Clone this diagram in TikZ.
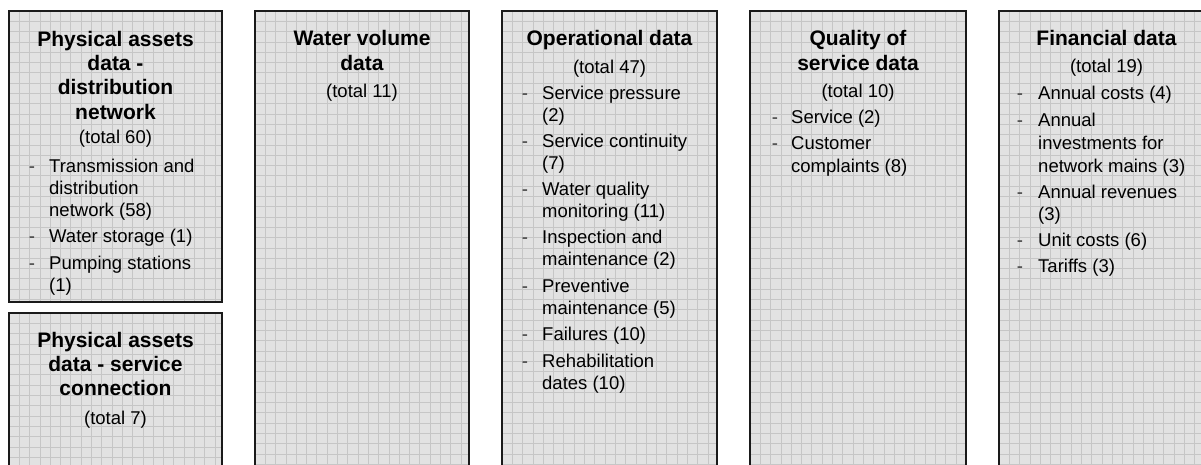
\documentclass[tikz,border=0pt]{standalone}
\usepackage{fontspec}
\setmainfont{Liberation Sans}
\definecolor{panelfill}{HTML}{E2E2E2}
\definecolor{gridcol}{HTML}{C6C6C6}
\definecolor{edgecol}{HTML}{1A1A1A}
% one shaded panel with a fine grid and a dark frame
\newcommand\gridpanel[4]{%
  \fill[panelfill] (#1,#2) rectangle (#3,#4);
  \begin{scope}
    \clip (#1,#2) rectangle (#3,#4);
    \foreach \k in {1,...,22} \draw[gridline] (#1+\k*10.3,#2) -- (#1+\k*10.3,#4);
    \foreach \k in {1,...,46} \draw[gridline] (#1,#2+\k*10.3) -- (#3,#2+\k*10.3);
  \end{scope}
  \draw[frame] (#1,#2) rectangle (#3,#4);}
\begin{document}
\begin{tikzpicture}[x=1pt,y=-1pt,
  frame/.style={draw=edgecol,line width=2pt},
  gridline/.style={draw=gridcol,line width=0.8pt},
  head/.style={font=\fontsize{21}{24}\selectfont\bfseries,anchor=base,inner sep=0pt},
  total/.style={font=\fontsize{18.5}{22}\selectfont,anchor=base,inner sep=0pt},
  dashmark/.style={font=\fontsize{18.5}{22}\selectfont,anchor=base,inner sep=0pt,text=black!80},
  entry/.style={font=\fontsize{18.5}{22}\selectfont,anchor=base west,inner sep=0pt}]
\useasboundingbox (0,0) rectangle (1201,464);
\clip (0,0) rectangle (1201,464);

% panels
\gridpanel{9}{11}{222}{302}
\gridpanel{9}{313}{222}{475}
\gridpanel{255}{11}{469}{475}
\gridpanel{502}{11}{717}{475}
\gridpanel{750}{11}{966}{475}
\gridpanel{999}{11}{1214}{475}

% Physical assets data - distribution network
\node[head] (pa1) at (115.5,46.5) {Physical assets};
\node[head] (pa2) at (115.5,70.5) {data -};
\node[head] (pa3) at (115.5,94.5) {distribution};
\node[head] (pa4) at (115.5,119) {network};
\node[total] (pat) at (115.5,143.5) {(total 60)};
\node[dashmark] (pad1) at (32,172.5) {-};
\node[entry] (pai1) at (49,172.5) {Transmission and};
\node[entry] (pai1b) at (49,194.5) {distribution};
\node[entry] (pai1c) at (49,216.5) {network (58)};
\node[dashmark] (pad2) at (32,242.5) {-};
\node[entry] (pai2) at (49,242.5) {Water storage (1)};
\node[dashmark] (pad3) at (32,269.5) {-};
\node[entry] (pai3) at (49,269.5) {Pumping stations};
\node[entry] (pai3b) at (49,291.5) {(1)};

% Physical assets data - service connection
\node[head] (sc1) at (115.5,347.5) {Physical assets};
\node[head] (sc2) at (115.5,371) {data - service};
\node[head] (sc3) at (115.5,395.5) {connection};
\node[total] (sct) at (115.5,424.5) {(total 7)};

% Water volume data
\node[head] (wv1) at (362,45.5) {Water volume};
\node[head] (wv2) at (362,70) {data};
\node[total] (wvt) at (362,97.5) {(total 11)};

% Operational data
\node[head] (op1) at (609.5,45.5) {Operational data};
\node[total] (opt) at (609.5,73.5) {(total 47)};
\node[dashmark] (opd1) at (525,99.5) {-};
\node[entry] (opi1) at (542,99.5) {Service pressure};
\node[entry] (opi1b) at (542,121.5) {(2)};
\node[dashmark] (opd2) at (525,147) {-};
\node[entry] (opi2) at (542,147) {Service continuity};
\node[entry] (opi2b) at (542,169.5) {(7)};
\node[dashmark] (opd3) at (525,195.5) {-};
\node[entry] (opi3) at (542,195.5) {Water quality};
\node[entry] (opi3b) at (542,217.5) {monitoring (11)};
\node[dashmark] (opd4) at (525,243.5) {-};
\node[entry] (opi4) at (542,243.5) {Inspection and};
\node[entry] (opi4b) at (542,265.5) {maintenance (2)};
\node[dashmark] (opd5) at (525,292) {-};
\node[entry] (opi5) at (542,292) {Preventive};
\node[entry] (opi5b) at (542,314) {maintenance (5)};
\node[dashmark] (opd6) at (525,340.5) {-};
\node[entry] (opi6) at (542,340.5) {Failures (10)};
\node[dashmark] (opd7) at (525,367.5) {-};
\node[entry] (opi7) at (542,367.5) {Rehabilitation};
\node[entry] (opi7b) at (542,389.5) {dates (10)};

% Quality of service data
\node[head] (qs1) at (858,45.5) {Quality of};
\node[head] (qs2) at (858,70) {service data};
\node[total] (qst) at (858,97.5) {(total 10)};
\node[dashmark] (qsd1) at (775,123.5) {-};
\node[entry] (qsi1) at (791,123.5) {Service (2)};
\node[dashmark] (qsd2) at (775,149.5) {-};
\node[entry] (qsi2) at (791,149.5) {Customer};
\node[entry] (qsi2b) at (791,172) {complaints (8)};

% Financial data
\node[head] (fd1) at (1106.5,45.5) {Financial data};
\node[total] (fdt) at (1106.5,72.5) {(total 19)};
\node[dashmark] (fdd1) at (1020,99.5) {-};
\node[entry] (fdi1) at (1038,99.5) {Annual costs (4)};
\node[dashmark] (fdd2) at (1020,126.5) {-};
\node[entry] (fdi2) at (1038,126.5) {Annual};
\node[entry] (fdi2b) at (1038,149) {investments for};
\node[entry] (fdi2c) at (1038,172) {network mains (3)};
\node[dashmark] (fdd3) at (1020,198) {-};
\node[entry] (fdi3) at (1038,198) {Annual revenues};
\node[entry] (fdi3b) at (1038,220) {(3)};
\node[dashmark] (fdd4) at (1020,246.5) {-};
\node[entry] (fdi4) at (1038,246.5) {Unit costs (6)};
\node[dashmark] (fdd5) at (1020,272.5) {-};
\node[entry] (fdi5) at (1038,272.5) {Tariffs (3)};
\end{tikzpicture}
\end{document}
